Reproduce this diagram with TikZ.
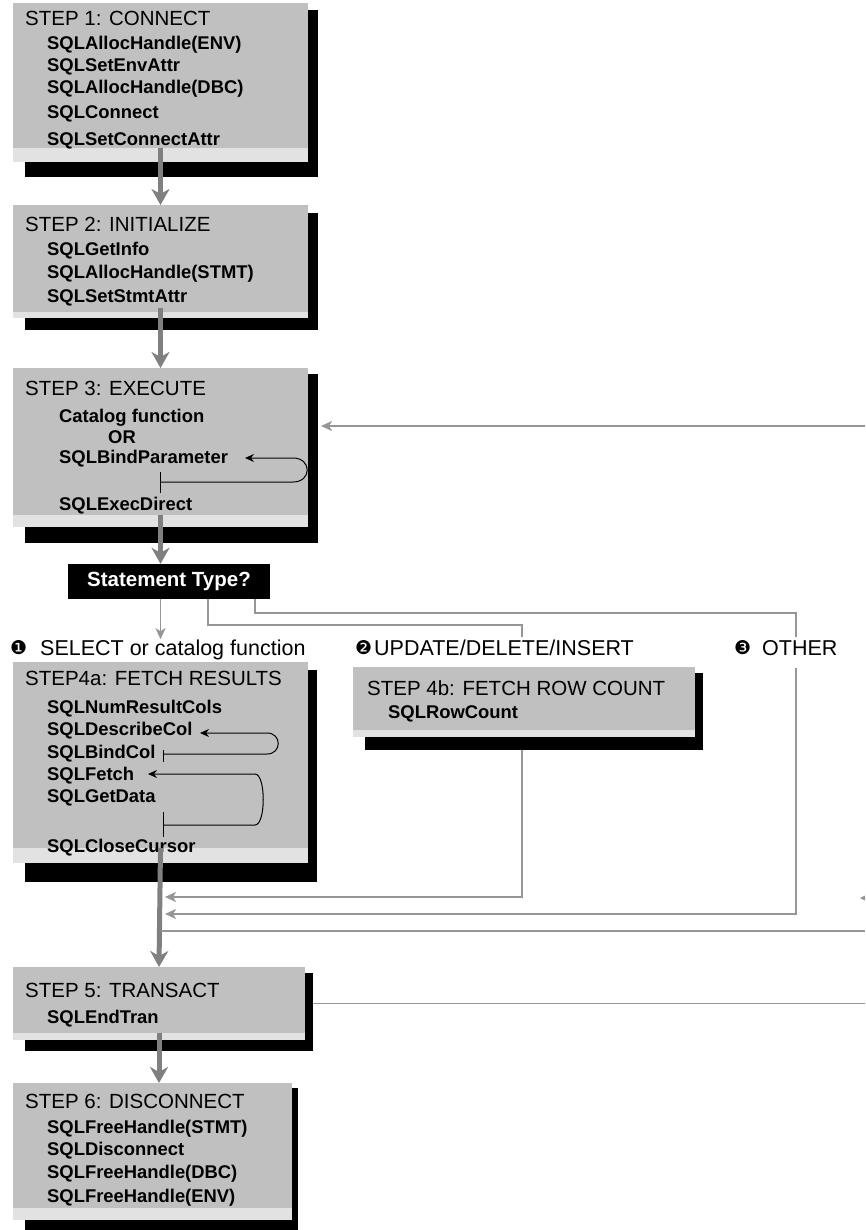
\documentclass[tikz,border=0pt]{standalone}
\usepackage{fontspec}
\setmainfont{Liberation Sans}
\newfontfamily\dingfont{DejaVu Sans}
\usetikzlibrary{arrows.meta,calc,fit}
\definecolor{boxgray}{RGB}{192,192,192}
\definecolor{stripgray}{RGB}{226,226,226}
\definecolor{arrowgray}{RGB}{128,128,128}
\definecolor{linegray}{RGB}{150,150,150}
\pgfdeclarelayer{bg}
\pgfsetlayers{bg,main}
\begin{document}
\begin{tikzpicture}[x=1pt,y=-1pt,
  stepbg/.style={fill=boxgray,draw=none,inner sep=0pt,outer sep=0pt},
  titletext/.style={anchor=base west,inner sep=0pt,font=\fontsize{20.5}{24}\selectfont},
  itemtext/.style={anchor=base west,inner sep=0pt,font=\bfseries\fontsize{18.4}{22}\selectfont},
  labeltext/.style={anchor=base west,inner sep=0pt,font=\fontsize{21.5}{24}\selectfont},
  dingtext/.style={anchor=base west,inner sep=0pt,font=\dingfont\fontsize{19}{22}\selectfont},
  bigarrow/.style={draw=arrowgray,line width=5pt,-{Stealth[length=16pt,width=18pt,inset=5pt]}},
  thinline/.style={draw=linegray,line width=1.6pt},
  thinarrow/.style={thinline,-{Stealth[length=11pt,width=10pt,inset=3pt]}},
  loopline/.style={draw=black,line width=1pt},
  looparrow/.style={loopline,-{Stealth[length=9pt,width=8pt,inset=3pt]}}]
\useasboundingbox (0,0) rectangle (865,1230);

% ---------- boxes ----------
\node[stepbg,fit={(13,3)(308,162)}] (s1) {};
\node[stepbg,fit={(13,205)(308,318)}] (s2) {};
\node[stepbg,fit={(13,368)(308,527)}] (s3) {};
\node[stepbg,fit={(13,662)(308,863)}] (s4a) {};
\node[stepbg,fit={(353,667)(695,737)}] (s4b) {};
\node[stepbg,fit={(13,967)(305,1040)}] (s5) {};
\node[stepbg,fit={(13,1083)(292,1220)}] (s6) {};

\begin{pgfonlayer}{bg}
  \fill[white] (0,0) rectangle (865,1230);
  \fill[black] ($(s1.north west)+(12,7)$) rectangle ($(s1.south east)+(10,15)$);
  \fill[black] ($(s2.north west)+(12,8)$) rectangle ($(s2.south east)+(10,12)$);
  \fill[black] ($(s3.north west)+(12,6)$) rectangle ($(s3.south east)+(10,16)$);
  \fill[black] ($(s4a.north west)+(12,8)$) rectangle ($(s4a.south east)+(9,19)$);
  \fill[black] ($(s4b.north west)+(12,6)$) rectangle ($(s4b.south east)+(8,13)$);
  \fill[black] ($(s5.north west)+(12,6)$) rectangle ($(s5.south east)+(8,11)$);
  \fill[black] ($(s6.north west)+(12,5)$) rectangle ($(s6.south east)+(6,20)$);
\end{pgfonlayer}

% dotted strips
\fill[stripgray] ($(s1.south west)+(0,-14)$) rectangle (s1.south east);
\fill[stripgray] ($(s2.south west)+(0,-6)$) rectangle (s2.south east);
\fill[stripgray] ($(s3.south west)+(0,-12)$) rectangle (s3.south east);
\fill[stripgray] ($(s4a.south west)+(0,-15)$) rectangle (s4a.south east);
\fill[stripgray] ($(s4b.south west)+(0,-7)$) rectangle (s4b.south east);
\fill[stripgray] ($(s5.south west)+(0,-7)$) rectangle (s5.south east);
\fill[stripgray] ($(s6.south west)+(0,-12)$) rectangle (s6.south east);

% ---------- texts ----------
\node[titletext] (t1) at (25,26) {STEP 1: CONNECT};
\node[itemtext] (i1a) at (47,50) {SQLAllocHandle(ENV)};
\node[itemtext] (i1b) at (47,72) {SQLSetEnvAttr};
\node[itemtext] (i1c) at (47,94) {SQLAllocHandle(DBC)};
\node[itemtext] (i1d) at (47,119) {SQLConnect};
\node[itemtext] (i1e) at (47,146) {SQLSetConnectAttr};

\node[titletext] (t2) at (25,232) {STEP 2: INITIALIZE};
\node[itemtext] (i2a) at (47,256) {SQLGetInfo};
\node[itemtext] (i2b) at (47,279) {SQLAllocHandle(STMT)};
\node[itemtext] (i2c) at (47,302) {SQLSetStmtAttr};

\node[titletext] (t3) at (25,395) {STEP 3: EXECUTE};
\node[itemtext] (i3a) at (59,422) {Catalog function};
\node[itemtext] (i3b) at (108,443) {OR};
\node[itemtext] (i3c) at (59,463) {SQLBindParameter};
\node[itemtext] (i3d) at (59,510) {SQLExecDirect};

\node[fill=black,text=white,minimum width=202pt,minimum height=35pt,inner sep=0pt,
  font=\bfseries\fontsize{20.5}{24}\selectfont] (st) at (169,581.5) {Statement Type?};

\node[dingtext] (n1) at (10,654) {❶};
\node[labeltext] (lab1) at (40,655) {SELECT or catalog function};
\node[dingtext] (n2) at (355,654) {❷};
\node[labeltext] (lab2) at (374,655) {UPDATE/DELETE/INSERT};
\node[dingtext] (n3) at (734,654) {❸};
\node[labeltext] (lab3) at (762,655) {OTHER};

\node[titletext] (t4a) at (25,685) {STEP4a: FETCH RESULTS};
\node[itemtext] (i4a) at (47,713) {SQLNumResultCols};
\node[itemtext] (i4b) at (47,735) {SQLDescribeCol};
\node[itemtext] (i4c) at (47,758) {SQLBindCol};
\node[itemtext] (i4d) at (47,780) {SQLFetch};
\node[itemtext] (i4e) at (47,802) {SQLGetData};
\node[itemtext] (i4f) at (47,852) {SQLCloseCursor};

\node[titletext] (t4b) at (367,695) {STEP 4b: FETCH ROW COUNT};
\node[itemtext] (i4g) at (388,718) {SQLRowCount};

\node[titletext] (t5) at (25,997) {STEP 5: TRANSACT};
\node[itemtext] (i5a) at (47,1023) {SQLEndTran};

\node[titletext] (t6) at (25,1108) {STEP 6: DISCONNECT};
\node[itemtext] (i6a) at (47,1133) {SQLFreeHandle(STMT)};
\node[itemtext] (i6b) at (47,1155) {SQLDisconnect};
\node[itemtext] (i6c) at (47,1178) {SQLFreeHandle(DBC)};
\node[itemtext] (i6d) at (47,1202) {SQLFreeHandle(ENV)};

% ---------- loops inside boxes ----------
\draw[looparrow] (160,482) -- (293,482) .. controls (312,482) and (312,458) .. (293,458) -- (245,458);
\draw[loopline] (160,472) -- (160,493);
\draw[looparrow] (163,754) -- (267,754) .. controls (282,754) and (282,733) .. (267,733) -- (200,733);
\draw[loopline] (163,750) -- (163,762);
\draw[looparrow] (163,825) -- (255,825) .. controls (266,825) and (266,774) .. (255,774) -- (148,774);
\draw[loopline] (163,812) -- (163,837);

% ---------- coordinates ----------
\coordinate (m1) at (165,897);
\coordinate (m2) at (165,914);
\coordinate (m3) at (160.5,931);
\coordinate (r1) at (865,931);
\coordinate (r2) at (865,426);
\coordinate (r3) at (321,426);
\coordinate (r4) at (865,1003.5);
\coordinate (k2) at (522,637);
\coordinate (k3) at (796,637);
\coordinate (k3b) at (796,668);

% ---------- main flow ----------
\draw[bigarrow] ($(s1.south)+(0,-14)$) -- (s2.north);
\draw[bigarrow] ($(s2.south)+(0,-10)$) -- (s3.north);
\draw[bigarrow] ($(s3.south)+(0,-12)$) -- (s3.south |- st.north);
\draw[bigarrow] ($(s4a.south)+(0,-15)$) -- (s5.north);
\draw[bigarrow] ($(s5.south)+(0,-7)$) -- (s5.south |- s6.north);

% ---------- statement type branches ----------
\draw[thinarrow] (s3.south |- st.south) -- (s3.south |- lab1.north);
\draw[thinline] ($(st.south west)+(140,0)$) |- (k2 |- 0,625) -- (k2);
\draw[thinline] ($(st.south west)+(187,0)$) |- (k3 |- 0,613) -- (k3);
\draw[thinarrow] ($(s4b.south)+(-2,13)$) |- (m1);
\draw[thinarrow] (k3b) |- (m2);
\draw[thinline] (m3) -- (r1);
\draw[thinarrow] (r2) -- (r3);
\draw[thinline] ($(s5.east)+(8,0)$) -- (r4);
\fill[linegray] (860,898) -- (865,895.5) -- (865,900.5) -- cycle;
\end{tikzpicture}
\end{document}
